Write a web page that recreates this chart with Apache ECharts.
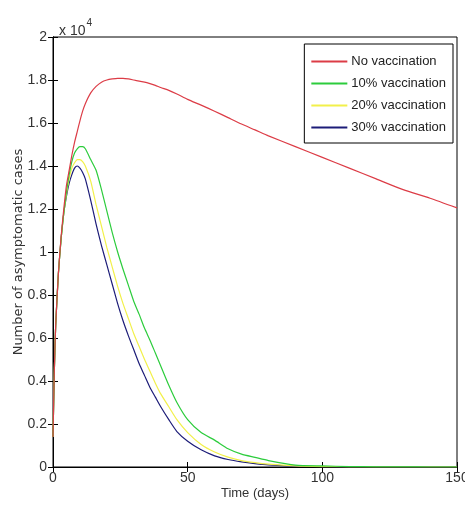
<!DOCTYPE html>
<html>
<head>
<meta charset="utf-8">
<script src="https://cdn.jsdelivr.net/npm/echarts@6/dist/echarts.min.js"></script>
<style>html,body{margin:0;padding:0;background:#fff;}#c{width:465px;height:518px;}</style>
</head>
<body>
<div id="c"></div>
<script>
// Time (days)
const days = [0,0.5,1,2,3,4,5,6,7,8,9,10,11,12,14,16,18,20,22,24,26,28,30,32,34,36,38,40,43,46,50,55,60,65,70,75,80,90,100,110,120,130,140,150];
// Number of asymptomatic cases
const noVacc = [1400,4500,6600,9000,10700,12000,13100,13800,14500,15100,15600,16100,16550,16900,17400,17700,17900,18000,18050,18080,18080,18050,18000,17950,17900,17830,17750,17650,17520,17350,17100,16830,16550,16250,15950,15680,15400,14900,14400,13900,13400,12900,12500,12050];
const vacc10 = [1400,4500,6600,9000,10600,11800,12800,13600,14200,14600,14800,14900,14900,14800,14300,13800,12900,11900,10900,10000,9200,8450,7700,7100,6450,5900,5300,4700,3800,3000,2200,1600,1250,850,600,450,300,90,50,20,10,5,0,0];
const vacc20 = [1400,4500,6600,9000,10600,11800,12700,13400,13900,14150,14300,14300,14200,14000,13300,12200,11200,10200,9300,8400,7600,6900,6200,5600,5000,4450,3900,3400,2800,2200,1600,1050,700,460,300,200,130,50,20,10,0,0,0,0];
const vacc30 = [1400,4500,6600,9000,10600,11800,12600,13200,13600,13900,14000,13900,13700,13400,12400,11300,10300,9400,8500,7600,6800,6100,5450,4800,4250,3700,3250,2800,2200,1650,1200,800,520,350,240,160,100,40,20,0,0,0,0,0];
const seriesNames = ['No vaccination','10% vaccination','20% vaccination','30% vaccination'];
const seriesValues = [noVacc, vacc10, vacc20, vacc30];
const colors = ['#dc3c46','#2ccc3c','#f2f04a','#1c1c78'];

const narrow = '"Liberation Sans", Arial, sans-serif';
const wide = '"DejaVu Sans", sans-serif';
const chart = echarts.init(document.getElementById('c'));
const series = seriesNames.map((n,i)=>({
  name:n, type:'line', showSymbol:false, symbol:'none', smooth:0.2,
  data: days.map((d,j)=>[d, seriesValues[i][j]]),
  lineStyle:{color:colors[i], width:1.2}, itemStyle:{color:colors[i]},
  z: 10-i
}));
chart.setOption({
  animation:false,
  backgroundColor:'#fff',
  title:{
    text:'{a|x 10}{b|4}', left:54, top:13,
    textStyle:{fontWeight:'normal', rich:{
      a:{fontFamily:narrow,fontSize:14,color:'#333',verticalAlign:'bottom',padding:[6,0,0,0]},
      b:{fontFamily:narrow,fontSize:10,color:'#333',verticalAlign:'top',padding:[0,0,9,1]}
    }}
  },
  grid:{left:53,right:8,top:37,bottom:51,show:true,borderColor:'#000',borderWidth:1,outerBoundsMode:'none',containLabel:false},
  legend:{
    orient:'vertical', right:12, top:44, data:seriesNames,
    backgroundColor:'#fff', borderColor:'#000', borderWidth:1,
    padding:[11,7,9,7], itemGap:9, itemWidth:36, itemHeight:14,
    icon:'path://M0,6 L36,6 L36,8 L0,8 Z',
    textStyle:{fontFamily:narrow,fontSize:13,color:'#222',padding:[0,0,0,-1]}
  },
  xAxis:[{
    type:'value', min:0, max:150, interval:50,
    name:'Time (days)', nameLocation:'middle', nameGap:20, nameMoveOverlap:false,
    nameTextStyle:{fontFamily:narrow,fontSize:13,color:'#333'},
    axisLine:{show:true,lineStyle:{color:'#000'}},
    axisTick:{inside:true,length:5,lineStyle:{color:'#000'}},
    axisLabel:{fontFamily:narrow,fontSize:14,color:'#333',margin:4},
    splitLine:{show:false}
  },{
    type:'value', min:0, max:150, interval:50, position:'top',
    axisLine:{show:true,lineStyle:{color:'#000'}},
    axisTick:{inside:true,length:5,lineStyle:{color:'#000'}},
    axisLabel:{show:false}, splitLine:{show:false}
  }],
  yAxis:[{
    type:'value', min:0, max:20000, interval:2000,
    name:'Number of asymptomatic cases', nameLocation:'middle', nameGap:28, nameMoveOverlap:false,
    nameTextStyle:{fontFamily:wide,fontSize:13,color:'#333'},
    axisLine:{show:true,lineStyle:{color:'#000'}},
    axisTick:{inside:true,length:5,lineStyle:{color:'#000'}},
    axisLabel:{fontFamily:narrow,fontSize:14,color:'#333',margin:6,
      formatter:v=>String(+(v/10000).toFixed(1))},
    splitLine:{show:false}
  },{
    type:'value', min:0, max:20000, interval:2000, position:'right',
    axisLine:{show:true,lineStyle:{color:'#000'}},
    axisTick:{inside:true,length:5,lineStyle:{color:'#000'}},
    axisLabel:{show:false}, splitLine:{show:false}
  }],
  series: series
});
</script>
</body>
</html>
